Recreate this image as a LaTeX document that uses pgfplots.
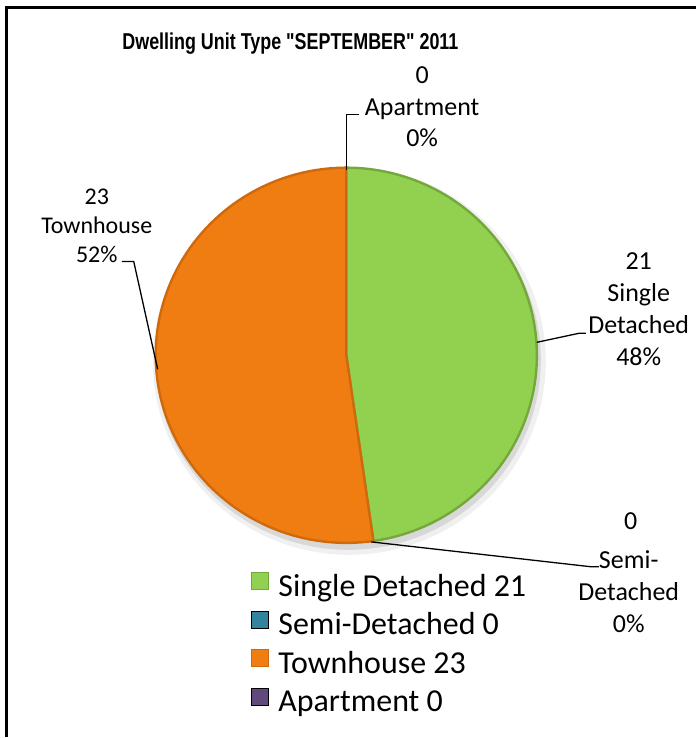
\documentclass[border=0pt]{standalone}
\usepackage{pgfplots}
\pgfplotsset{compat=1.18}
\usepackage{fontspec}
\setmainfont{Carlito}
\newfontfamily\titlefont{Liberation Sans}
\definecolor{sdgreen}{HTML}{92D050}
\definecolor{sdgreenrim}{HTML}{74A83A}
\definecolor{semiteal}{HTML}{31849B}
\definecolor{semitealrim}{HTML}{215E6E}
\definecolor{townorange}{HTML}{F07D12}
\definecolor{townorangerim}{HTML}{CF690C}
\definecolor{aptpurple}{HTML}{604A7B}
\definecolor{aptpurplerim}{HTML}{45355A}
% data
\def\vSingle{21}
\def\vSemi{0}
\def\vTown{23}
\def\vApt{0}
\pgfmathsetmacro\tot{\vSingle+\vSemi+\vTown+\vApt}
\pgfmathsetmacro\aA{90}
\pgfmathsetmacro\aB{\aA-360*\vSingle/\tot}
\pgfmathsetmacro\aC{\aB-360*\vSemi/\tot}
\pgfmathsetmacro\aD{\aC-360*\vTown/\tot}
\pgfmathsetmacro\aE{\aD-360*\vApt/\tot}
\def\cx{347}
\def\cy{382}
\def\rx{191}
\def\ry{188}
\begin{document}
\begin{tikzpicture}
\begin{axis}[
  width=697pt, height=738pt, scale only axis,
  xmin=0, xmax=697, ymin=0, ymax=738,
  hide axis, clip=false,
  legend style={at={(axis cs:251,165)}, anchor=north west, draw=none, fill=none,
    font=\fontsize{32}{37}\selectfont, row sep=11pt, inner sep=0pt,
    /tikz/every odd column/.append style={column sep=8pt},
    /tikz/every even column/.append style={column sep=0pt}},
  legend cell align=left,
  legend image code/.code={\draw[#1, line width=0.8pt] (0pt,-3.5pt) rectangle (17pt,13.5pt);},
]
% soft shadow
\addplot[forget plot, draw=none, fill=black, fill opacity=0.06, domain=0:360, samples=120, variable=\t]
  ({\cx+3+(\rx+6)*cos(\t)}, {\cy-6+(\ry+6)*sin(\t)}) -- cycle;
\addplot[forget plot, draw=none, fill=black, fill opacity=0.10, domain=0:360, samples=120, variable=\t]
  ({\cx+2+(\rx+2)*cos(\t)}, {\cy-5+(\ry+2)*sin(\t)}) -- cycle;
% wedges
\addplot[fill=sdgreen, draw=sdgreenrim, line width=2.4pt, domain=\aA:\aB, samples=100, variable=\t]
  ({\cx+\rx*cos(\t)}, {\cy+\ry*sin(\t)}) -- (axis cs:\cx,\cy) -- cycle;
\addlegendentry{Single Detached 21}
\addplot[fill=semiteal, draw=none, samples at={\aB,\aC}, variable=\t]
  ({\cx+\rx*cos(\t)}, {\cy+\ry*sin(\t)}) -- (axis cs:\cx,\cy) -- cycle;
\addlegendentry{Semi-Detached 0}
\addplot[fill=townorange, draw=townorangerim, line width=2.4pt, domain=\aC:\aD, samples=100, variable=\t]
  ({\cx+\rx*cos(\t)}, {\cy+\ry*sin(\t)}) -- (axis cs:\cx,\cy) -- cycle;
\addlegendentry{Townhouse 23}
\addplot[fill=aptpurple, draw=none, samples at={\aD,\aE}, variable=\t]
  ({\cx+\rx*cos(\t)}, {\cy+\ry*sin(\t)}) -- (axis cs:\cx,\cy) -- cycle;
\addlegendentry{Apartment 0}
% frame
\path (axis cs:0,0) rectangle (axis cs:697,738);
\draw[line width=3pt] (axis cs:6.5,0) -- (axis cs:6.5,730) -- (axis cs:697,730);
% title
\node[font=\titlefont\bfseries\fontsize{23}{27}\selectfont] at (axis cs:291,694) {\scalebox{0.78}[1]{Dwelling Unit Type "SEPTEMBER" 2011}};
% leader lines
\draw[line width=1.3pt] (axis cs:360,623) -- (axis cs:347,623) -- (axis cs:347,568);
\draw[line width=1.3pt] (axis cs:122,476) -- (axis cs:134,476) -- (axis cs:158,368);
\draw[line width=1.3pt] (axis cs:538,395) -- (axis cs:580,404) -- (axis cs:587,404);
\draw[line width=1.3pt] (axis cs:372,195) -- (axis cs:593,170) -- (axis cs:600,170);
% data labels
\node[align=center, font=\fontsize{26}{31.5}\selectfont] at (axis cs:423,631) {0\\Apartment\\0\%};
\node[align=center, font=\fontsize{24}{29}\selectfont] at (axis cs:97,512) {23\\Townhouse\\52\%};
\node[align=center, font=\fontsize{26}{32}\selectfont] at (axis cs:640,428) {21\\Single\\Detached\\48\%};
\node[font=\fontsize{26}{32}\selectfont] at (axis cs:632,216) {0};
\node[align=center, font=\fontsize{26}{32}\selectfont] at (axis cs:630,145) {Semi-\\Detached\\0\%};
\end{axis}
\end{tikzpicture}
\end{document}
